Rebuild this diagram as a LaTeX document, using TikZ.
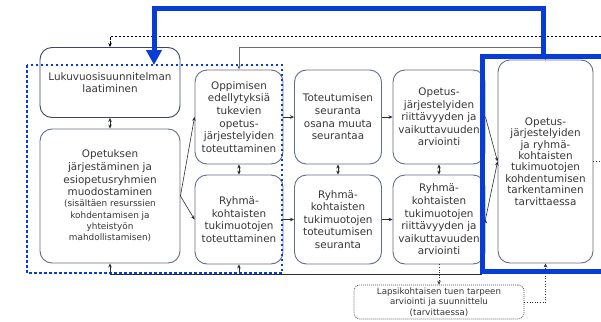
\documentclass[tikz,border=0pt]{standalone}
\usepackage{fontspec}
\setmainfont{DejaVu Sans}
\usetikzlibrary{arrows.meta,positioning,calc}
\definecolor{boxline}{RGB}{100,110,140}
\definecolor{boxdark}{RGB}{60,70,105}
\definecolor{boxtext}{RGB}{55,55,55}
\definecolor{ohjblue}{RGB}{8,60,215}
\definecolor{linegray}{RGB}{45,45,45}
\newcommand\pienempi{\fontsize{8.9}{11.3}\selectfont}

\begin{document}
\begin{tikzpicture}[x=1pt, y=-1pt, >={Stealth[length=4pt,width=3.5pt]}, line width=0.7pt]
\tikzstyle{every node}=[font=\fontsize{10.4}{12.6}\selectfont, text=boxtext]
\tikzstyle{vaihe}=[draw=boxline, line width=0.9pt, rounded corners=12pt, align=center, inner sep=0pt, fill=white]
\tikzstyle{yhteys}=[draw=linegray, line width=0.6pt]
\clip (0,0) rectangle (601,321);
\fill[white] (0,0) rectangle (601,321);
% vaiheet
\node[vaihe, draw=boxdark, minimum width=140pt, minimum height=70pt]  (L)  at (110,82.5) {Lukuvuosisuunnitelman\\laatiminen};
\node[vaihe, minimum width=140pt, minimum height=134pt] (O)  at (110,196)  {Opetuksen\\järjestäminen ja\\esiopetusryhmien\\muodostaminen\\[-1.5pt]{\pienempi(sisältäen resurssien}\\[-1.3pt]{\pienempi kohdentamisen ja}\\[-1.3pt]{\pienempi yhteistyön}\\[-1.3pt]{\pienempi mahdollistamisen)}};
\node[vaihe, minimum width=88pt, minimum height=94pt]   (A1) at (239,117)  {Oppimisen\\edellytyksiä\\tukevien\\opetus-\\järjestelyiden\\toteuttaminen};
\node[vaihe, minimum width=88pt, minimum height=89pt]   (A2) at (239,219.5) {Ryhmä-\\kohtaisten\\tukimuotojen\\toteuttaminen};
\node[vaihe, minimum width=87pt, minimum height=94pt]   (B1) at (338,117)  {Toteutumisen\\seuranta\\osana muuta\\seurantaa};
\node[vaihe, minimum width=87pt, minimum height=89pt]   (B2) at (338,219.5) {Ryhmä-\\kohtaisten\\tukimuotojen\\toteutumisen\\seuranta};
\node[vaihe, minimum width=92pt, minimum height=94pt]   (C1) at (439,117)  {Opetus-\\järjestelyiden\\riittävyyden ja\\vaikuttavuuden\\arviointi};
\node[vaihe, minimum width=92pt, minimum height=89pt]   (C2) at (439,219.5) {Ryhmä-\\kohtaisten\\tukimuotojen\\riittävyyden ja\\vaikuttavuuden\\arviointi};
\node[vaihe, minimum width=95pt, minimum height=203pt, font=\fontsize{10.4}{11.4}\selectfont] (K) at (545.5,161.5) {Opetus-\\järjestelyiden\\ja ryhmä-\\kohtaisten\\tukimuotojen\\kohdentumisen\\tarkentaminen\\tarvittaessa};
\node[vaihe, draw=gray!60!black, line width=0.6pt, dash pattern=on 1pt off 1pt, rounded corners=6pt, minimum width=170pt, minimum height=34pt, font=\fontsize{8.7}{10.5}\selectfont] (lapsi) at (439,302) {Lapsikohtaisen tuen tarpeen\\arviointi ja suunnittelu\\(tarvittaessa)};
% yhteydet
\path[yhteys, <->]
(L)  edge (O)
(A1) edge (A2)
(B1) edge (B2)
(C1) edge (C2);
\path[yhteys, ->]
(O.east)  edge (A1.west)
(O.east)  edge (A2.west)
(A1) edge (B1)
(A2) edge (B2)
(B1) edge (C1)
(B2) edge (C2)
(C1.east) edge (K.west)
(C2.east) edge (K.west);
\coordinate (ylaR) at (605,36);
\coordinate (alaR) at (482,274);
\draw[->, dashed, line width=0.5pt, dash pattern=on 2.5pt off 1.5pt] (ylaR) -| (L.north);
\draw[->, draw=gray!85!black, line width=1pt] (K.north) -- ++(0,-12) -| (A1.north);
\draw[yhteys, ->] (alaR) -| (A2.south);
\draw[yhteys, ->] (A2.south |- alaR) -| (O.south);
\draw[yhteys, ->, dotted] (C2.south) -- (C2.south |- lapsi.north);
\draw[yhteys, ->, dotted] (lapsi.east) -| (K.south);
\draw[yhteys, dotted] (K.east) -- ++(12,0);
% korostukset
\coordinate (sin1) at (543,56);
\coordinate (sin2) at (154,8.5);
\coordinate (sin3) at (154,65);
\draw[ohjblue, line width=2.5pt, dash pattern=on 2.5pt off 2.5pt] (27,65) rectangle (282,273);
\draw[ohjblue, line width=5pt] (610,56) -- (482.5,56) -- (482.5,271) -- (610,271);
\draw[ohjblue, line width=5pt, -{Triangle[length=15pt,width=15pt]}] (sin1) |- (sin2) -- (sin3);
\end{tikzpicture}
\end{document}
